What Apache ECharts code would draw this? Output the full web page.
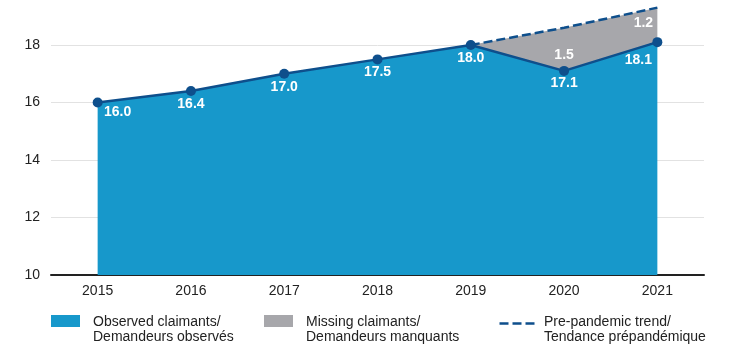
<!DOCTYPE html>
<html>
<head>
<meta charset="utf-8">
<script src="https://cdn.jsdelivr.net/npm/echarts@6/dist/echarts.min.js"></script>
<style>html,body{margin:0;padding:0;background:#fff;}#c{width:729px;height:363px;}</style>
</head>
<body>
<div id="c"></div>
<script>
const years = ['2015','2016','2017','2018','2019','2020','2021'];
const observed = [16.0, 16.4, 17.0, 17.5, 18.0, 17.1, 18.1];
const missing = [null, null, null, null, 0, 1.5, 1.2];
const trend = [null, null, null, null, 18.0, 18.6, 19.3];
const yTicks = [10, 12, 14, 16, 18];
const names = ['Observed claimants/\nDemandeurs observés', 'Missing claimants/\nDemandeurs manquants', 'Pre-pandemic trend/\nTendance prépandémique'];

const BLUE = '#1798cb', DARK = '#0e4f8c', GRAY = '#a7a7ab';
const FONT = 'Liberation Sans, Arial, sans-serif';
const obsOffsets = [[20,10],[0,13],[0,13],[0,13],[0,13],[0,12],[-19,18]];
const misOffsets = [null,null,null,null,null,[0,27],[-14,16]];
const labelFont = {color:'#fff', fontSize:14, fontWeight:'bold', fontFamily:FONT};

const obsData = observed.map((v,i)=>({value:v, label:{show:true, position:'inside', offset:obsOffsets[i], formatter:v.toFixed(1), ...labelFont}}));
const misData = missing.map((v,i)=>(v===null||v===0)?{value:v, label:{show:false}}:{value:v, label:{show:true, position:'inside', offset:misOffsets[i], formatter:v.toFixed(1), ...labelFont}});

// legend drawn as graphic elements (icon + two-line text)
const legendX = [51, 264, 497];
const legendGraphics = [];
function legText(x, name){
  return {type:'text', left:x, top:315, silent:true,
    style:{text:name, fill:'#222', font:'14px ' + FONT, lineHeight:15}};
}
legendGraphics.push({type:'rect', left:legendX[0], top:315, shape:{width:29, height:12}, style:{fill:BLUE}});
legendGraphics.push(legText(legendX[0]+42, names[0]));
legendGraphics.push({type:'rect', left:legendX[1], top:315, shape:{width:29, height:12}, style:{fill:GRAY}});
legendGraphics.push(legText(legendX[1]+42, names[1]));
legendGraphics.push({type:'line', left:legendX[2], top:321, shape:{x1:0, y1:0, x2:36, y2:0}, style:{stroke:DARK, lineWidth:2.5, lineDash:[9,4]}});
legendGraphics.push(legText(legendX[2]+47, names[2]));

const chart = echarts.init(document.getElementById('c'), null, {renderer:'canvas'});
chart.setOption({
  animation:false,
  backgroundColor:'#fff',
  grid:{left:51, right:25, top:45, bottom:88},
  graphic:legendGraphics,
  xAxis:{type:'category', data:years, boundaryGap:true,
    axisLine:{lineStyle:{color:'#222', width:2}}, axisTick:{show:false},
    axisLabel:{color:'#222', fontSize:14, margin:9, fontFamily:FONT}},
  yAxis:{type:'value', min:yTicks[0], max:yTicks[yTicks.length-1], interval:2,
    axisLine:{show:false}, axisTick:{show:false},
    axisLabel:{color:'#222', fontSize:14, margin:11, fontFamily:FONT}},
  series:[
    {name:names[0], type:'line', stack:'s', data:obsData, clip:false, z:4,
      symbol:'circle', symbolSize:10, itemStyle:{color:DARK},
      lineStyle:{color:DARK, width:2.5}, areaStyle:{color:BLUE, opacity:1}},
    {name:names[1], type:'line', stack:'s', data:misData, clip:false, z:2,
      symbol:'circle', symbolSize:0.1, itemStyle:{color:GRAY},
      lineStyle:{width:0, color:GRAY}, areaStyle:{color:GRAY, opacity:1}},
    {name:names[2], type:'line', data:trend, clip:false, z:3,
      symbol:'none', itemStyle:{color:DARK},
      lineStyle:{color:DARK, width:2.5, type:[9,4]}}
  ]
});
chart.setOption({yAxis:{splitLine:{show:true, lineStyle:{color:'#e2e2e2', width:1}}}});
</script>
</body>
</html>
